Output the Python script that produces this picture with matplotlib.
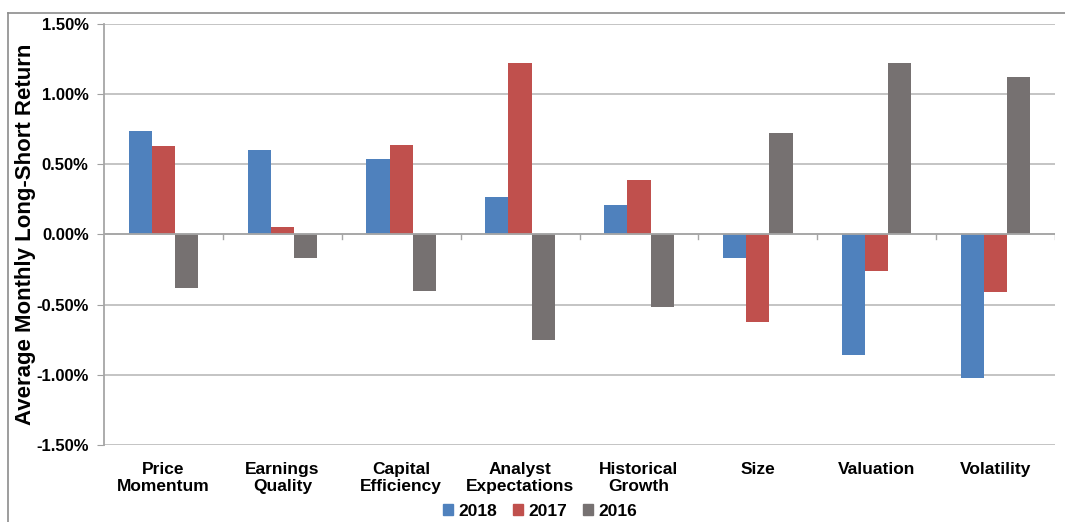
import matplotlib.pyplot as plt
import numpy as np
from matplotlib.lines import Line2D

plt.rcParams['font.family'] = ['Liberation Sans', 'DejaVu Sans']

categories = ['Price\nMomentum', 'Earnings\nQuality', 'Capital\nEfficiency', 'Analyst\nExpectations',
              'Historical\nGrowth', 'Size', 'Valuation', 'Volatility']
y2018 = [0.74, 0.60, 0.54, 0.27, 0.21, -0.17, -0.86, -1.02]
y2017 = [0.63, 0.05, 0.64, 1.22, 0.39, -0.62, -0.26, -0.41]
y2016 = [-0.38, -0.17, -0.40, -0.75, -0.52, 0.72, 1.22, 1.12]
series = [('2018', y2018, '#4F81BD'), ('2017', y2017, '#C0504D'), ('2016', y2016, '#767171')]

fig = plt.figure(figsize=(10.65, 5.22), dpi=100)
ax = fig.add_axes([104/1065, 1 - 445/522, (1055-104)/1065, (445-24)/522])

x = np.arange(len(categories))
w = 0.195
for i, (name, vals, col) in enumerate(series):
    ax.bar(x + (i - 1) * w, vals, w, color=col, label=name, zorder=3)

ax.set_xlim(-0.5, len(categories) - 0.5)
ax.set_ylim(-1.5, 1.5)
ax.set_yticks(np.arange(-1.5, 1.51, 0.5))
ax.set_yticklabels([f'{v:.2f}%' for v in np.arange(-1.5, 1.51, 0.5)], fontsize=12, fontweight='bold')
ax.yaxis.grid(True, color='#BFBFBF', linewidth=1.3, zorder=0)
ax.tick_params(axis='y', length=5, color='#A0A0A0', pad=6)

# category labels at the bottom
ax.set_xticks(x)
ax.set_xticklabels(categories, fontsize=12.5, fontweight='bold')
ax.tick_params(axis='x', length=0, pad=12)

# zero axis with ticks between groups
ax.axhline(0, color='#A6A6A6', linewidth=1.3, zorder=4)
for b in np.arange(0.5, len(categories), 1.0):
    ax.plot([b, b], [0, -0.035], color='#A6A6A6', linewidth=1, zorder=4)

for s in ['top', 'right', 'bottom']:
    ax.spines[s].set_visible(False)
ax.spines['left'].set_color('#A6A6A6')
ax.spines['left'].set_linewidth(1.3)

ax.set_ylabel('Average Monthly Long-Short Return', fontsize=16, fontweight='bold')
ax.yaxis.set_label_coords((36 - 104) / 951, 0.5)

handles = [plt.Rectangle((0, 0), 1, 1, color=c) for _, _, c in series]
fig.legend(handles, [n for n, _, _ in series], loc='center', bbox_to_anchor=(540/1065, 1 - 511/522),
           ncol=3, frameon=False, prop={'size': 12.5, 'weight': 'bold'},
           handlelength=0.6, handleheight=0.6, handletextpad=0.3, columnspacing=0.9)

# outer chart frame (left and top)
fig.add_artist(Line2D([8/1065, 8/1065], [0, 1 - 13/522], transform=fig.transFigure, color='#8C8C8C', linewidth=1.2))
fig.add_artist(Line2D([8/1065, 1], [1 - 13/522, 1 - 13/522], transform=fig.transFigure, color='#8C8C8C', linewidth=1.2))

fig.savefig('out.png', dpi=100)
